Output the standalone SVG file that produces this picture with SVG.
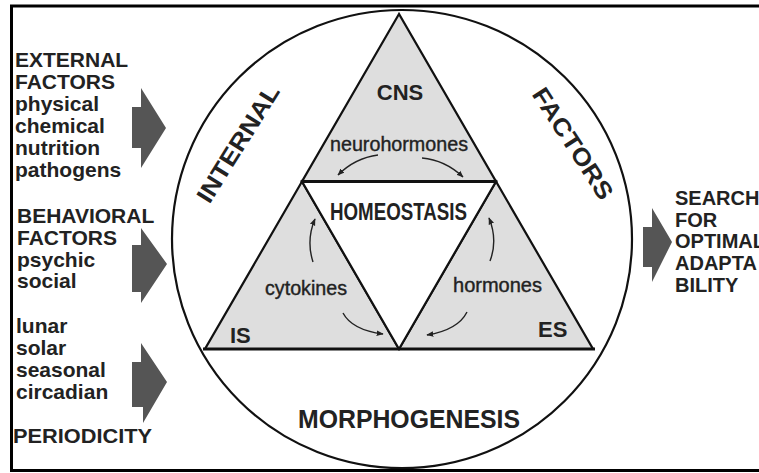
<svg xmlns="http://www.w3.org/2000/svg" width="759" height="473" viewBox="0 0 759 473">
<defs>
<style>
.t{font-family:"Liberation Sans",Arial,sans-serif;font-weight:bold;fill:#222}
.n{font-family:"Liberation Sans",Arial,sans-serif;font-weight:normal;fill:#222;stroke:#222;stroke-width:0.4}
.side{font-size:21px}
.fat{fill:#555}
.edge{fill:none;stroke:#111;stroke-width:2.2}
.shade{fill:#dedede;stroke:#111;stroke-width:2.2;stroke-linejoin:miter}
.cv{fill:none;stroke:#222;stroke-width:1.4}
</style>
<marker id="ah" viewBox="0 0 10 10" refX="9" refY="5" markerWidth="5" markerHeight="5" orient="auto">
<path d="M0,1 L10,5 L0,9 Z" fill="#222"/>
</marker>
</defs>
<rect width="759" height="473" fill="#fff"/>
<g id="frame" stroke="#000" stroke-width="3" fill="none">
<line x1="10" y1="6" x2="759" y2="6"/>
<line x1="11.5" y1="5" x2="11.5" y2="471"/>
<line x1="10" y1="470.5" x2="759" y2="470.5"/>
</g>
<g id="circle"><ellipse cx="402" cy="239" rx="230" ry="229" class="edge" stroke-width="2.6"/></g>
<g id="cns"><polygon class="shade" points="399,14 302,181.5 496,181.5"/>
<text class="t" x="400" y="100" font-size="22" text-anchor="middle">CNS</text>
<text class="n" x="330" y="151" font-size="21" textLength="138" lengthAdjust="spacingAndGlyphs">neurohormones</text></g>
<g id="is"><polygon class="shade" points="302,181.5 205,349 399,349"/>
<text class="t" x="230" y="343" font-size="22">IS</text>
<text class="n" x="265" y="295" font-size="20" textLength="82" lengthAdjust="spacingAndGlyphs">cytokines</text></g>
<g id="es"><polygon class="shade" points="496,181.5 399,349 593,349"/>
<text class="t" x="538" y="337" font-size="22">ES</text>
<text class="n" x="453" y="292" font-size="20" textLength="89" lengthAdjust="spacingAndGlyphs">hormones</text></g>
<g id="homeostasis"><polygon points="302,181.5 496,181.5 399,349" fill="#fff" stroke="#111" stroke-width="2.2"/>
<line x1="302" y1="181.5" x2="496" y2="181.5" stroke="#111" stroke-width="3"/>
<line x1="203" y1="349" x2="595" y2="349" stroke="#111" stroke-width="3"/>
<text class="t" x="330" y="220" font-size="24" textLength="137" lengthAdjust="spacingAndGlyphs">HOMEOSTASIS</text></g>
<g id="morphogenesis"><text class="t" x="298" y="428" font-size="26" textLength="222" lengthAdjust="spacingAndGlyphs">MORPHOGENESIS</text></g>
<g id="internal"><text class="t" font-size="24" text-anchor="middle" textLength="134" lengthAdjust="spacingAndGlyphs" transform="translate(245,148) rotate(-58)">INTERNAL</text></g>
<g id="factors"><text class="t" font-size="24" text-anchor="middle" textLength="128" lengthAdjust="spacingAndGlyphs" transform="translate(566,148) rotate(57)">FACTORS</text></g>
<g id="connectors">
<path class="cv" d="M378,155 Q355,158 338,175" marker-end="url(#ah)"/>
<path class="cv" d="M422,158 Q445,160 463,177" marker-end="url(#ah)"/>
<path class="cv" d="M313,262 Q306,240 315,219" marker-end="url(#ah)"/>
<path class="cv" d="M490,261 Q498,240 489,218" marker-end="url(#ah)"/>
<path class="cv" d="M343,313 Q352,330 383,334" marker-end="url(#ah)"/>
<path class="cv" d="M467,312 Q458,330 427,335" marker-end="url(#ah)"/>
</g>
<g id="external">
<polygon class="fat" points="132,107 141,107 141,88 166,128 141,168 141,148 132,148"/>
<text class="t side" x="15" y="67">EXTERNAL</text>
<text class="t side" x="15" y="89">FACTORS</text>
<text class="t side" x="15" y="111">physical</text>
<text class="t side" x="15" y="133">chemical</text>
<text class="t side" x="15" y="155">nutrition</text>
<text class="t side" x="15" y="177">pathogens</text>
</g>
<g id="behavioral">
<polygon class="fat" points="132,245 141,245 141,228 167,264 141,303 141,292 132,292"/>
<text class="t side" x="17" y="223">BEHAVIORAL</text>
<text class="t side" x="17" y="245">FACTORS</text>
<text class="t side" x="17" y="267">psychic</text>
<text class="t side" x="17" y="288">social</text>
</g>
<g id="periodicity">
<polygon class="fat" points="132,362 141,362 141,343 167,382 143,423 143,407 132,407"/>
<text class="t side" x="16" y="333">lunar</text>
<text class="t side" x="16" y="355">solar</text>
<text class="t side" x="16" y="377">seasonal</text>
<text class="t side" x="16" y="399">circadian</text>
<text class="t side" x="13" y="443" textLength="139" lengthAdjust="spacingAndGlyphs">PERIODICITY</text>
</g>
<g id="search">
<polygon class="fat" points="643,227 652,227 652,208 672,242 652,282 652,267 643,267" fill="#666"/>
<text class="t" font-size="20" x="675" y="205">SEARCH</text>
<text class="t" font-size="20" x="675" y="227">FOR</text>
<text class="t" font-size="20" x="675" y="248">OPTIMAL</text>
<text class="t" font-size="20" x="675" y="270">ADAPTA</text>
<text class="t" font-size="20" x="675" y="292">BILITY</text>
</g>
</svg>
